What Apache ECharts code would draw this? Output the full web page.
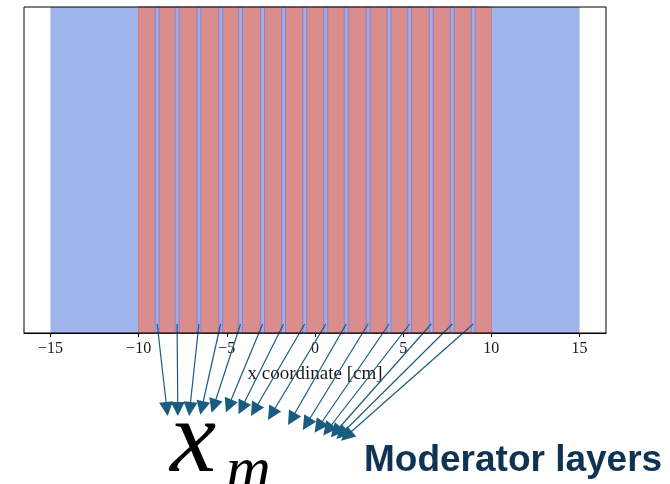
<!DOCTYPE html>
<html>
<head>
<meta charset="utf-8">
<script src="https://cdn.jsdelivr.net/npm/echarts@6/dist/echarts.min.js"></script>
<style>
  html, body { margin: 0; padding: 0; background: #fff; }
  #chart { width: 670px; height: 484px; }
</style>
</head>
<body>
<div id="chart"></div>
<script>
// Slab geometry along x [cm]
const reflectorSpans = [[-15, -10], [10, 15]];
const fuelSpans = [[-10, 10]];
// Centres of the thin moderator layers [cm]
const moderatorCenters = [-8.95, -7.82, -6.58, -5.35, -4.22, -2.97, -1.78, -0.58,
                          0.61, 1.77, 3.01, 4.2, 5.37, 6.59, 7.78, 8.97];
const moderatorWidth = 0.22;
// Where each pointer arrow ends: x [cm] and drop below the plot (pointer-panel units)
const arrowTipX = [-8.40, -7.78, -7.10, -6.42, -5.74, -4.90, -4.16, -3.43,
                   -2.46, -1.33, -0.48, 0.20, 0.71, 1.16, 1.50, 1.78];
const arrowTipDrop = [85, 85, 85, 84, 82, 82, 84, 86, 90, 95, 100, 103, 106, 108, 110, 112];
const xTicks = [-15, -10, -5, 0, 5, 10, 15];
const xRange = [-16.5, 16.5];

const chart = echarts.init(document.getElementById('chart'), null, { renderer: 'canvas' });

function spanRenderer(fill, stroke) {
  return function (params, api) {
    const a = api.coord([api.value(0), 1]);
    const b = api.coord([api.value(1), 0]);
    return {
      type: 'rect',
      shape: { x: a[0], y: a[1], width: b[0] - a[0], height: b[1] - a[1] },
      style: { fill: fill, stroke: stroke, lineWidth: stroke ? 1 : 0 }
    };
  };
}

const moderatorSpans = moderatorCenters.map(c => [c - moderatorWidth / 2, c + moderatorWidth / 2]);
const arrows = moderatorCenters.map((c, i) => ({
  coords: [[c, 0], [arrowTipX[i], arrowTipDrop[i]]]
}));

const serif = '"Liberation Serif", "DejaVu Serif", serif';

chart.setOption({
  animation: false,
  backgroundColor: '#ffffff',
  grid: [
    { left: 24, right: 64, top: 7, bottom: 151, show: true, z: 10,
      borderColor: '#000', borderWidth: 1, backgroundColor: 'transparent' },
    { left: 24, right: 64, top: 324, height: 120 }
  ],
  xAxis: [
    {
      gridIndex: 0, type: 'value', min: xRange[0], max: xRange[1],
      axisLine: { show: true, lineStyle: { color: '#000', width: 1 } },
      axisTick: { show: true, length: 4, customValues: xTicks, lineStyle: { color: '#000' } },
      axisLabel: {
        customValues: xTicks, margin: 8,
        fontFamily: serif, fontSize: 16, color: '#1a1a1a',
        formatter: v => String(v).replace('-', '\u2212')
      },
      splitLine: { show: false },
      name: 'x coordinate [cm]', nameLocation: 'middle', nameGap: 32,
      nameTextStyle: { fontFamily: serif, fontSize: 19, color: '#1a1a1a' }
    },
    { gridIndex: 1, type: 'value', min: xRange[0], max: xRange[1], show: false }
  ],
  yAxis: [
    { gridIndex: 0, type: 'value', min: 0, max: 1, show: false },
    { gridIndex: 1, type: 'value', min: 0, max: 120, inverse: true, show: false }
  ],
  series: [
    {
      type: 'custom', xAxisIndex: 0, yAxisIndex: 0,
      renderItem: spanRenderer('#a0b4ec', null),
      data: reflectorSpans
    },
    {
      type: 'custom', xAxisIndex: 0, yAxisIndex: 0,
      renderItem: spanRenderer('#d98d8d', '#c77a86'),
      data: fuelSpans
    },
    {
      type: 'custom', xAxisIndex: 0, yAxisIndex: 0,
      renderItem: spanRenderer('#a2ace8', '#8f80bf'),
      data: moderatorSpans
    },
    {
      type: 'lines', coordinateSystem: 'cartesian2d', xAxisIndex: 1, yAxisIndex: 1,
      clip: false,
      symbol: ['none', 'triangle'], symbolSize: [0, 14],
      lineStyle: { color: '#1a5b80', width: 1.2, opacity: 1 },
      itemStyle: { color: '#1a5b80' },
      data: arrows
    }
  ],
  graphic: [
    {
      type: 'text', left: 170, top: 392, z: 20,
      style: { text: 'x', fontFamily: '"Liberation Serif", serif', fontStyle: 'italic',
               fontSize: 104, fill: '#000' }
    },
    {
      type: 'text', left: 226, top: 442, z: 20,
      style: { text: 'm', fontFamily: '"Liberation Serif", serif', fontStyle: 'italic',
               fontSize: 62, fill: '#000' }
    },
    {
      type: 'text', left: 364, top: 442, z: 20,
      style: { text: 'Moderator layers', fontFamily: '"Liberation Sans", Arial, sans-serif',
               fontWeight: 'bold', fontSize: 37, fill: '#0f3352' }
    }
  ]
});
</script>
</body>
</html>
